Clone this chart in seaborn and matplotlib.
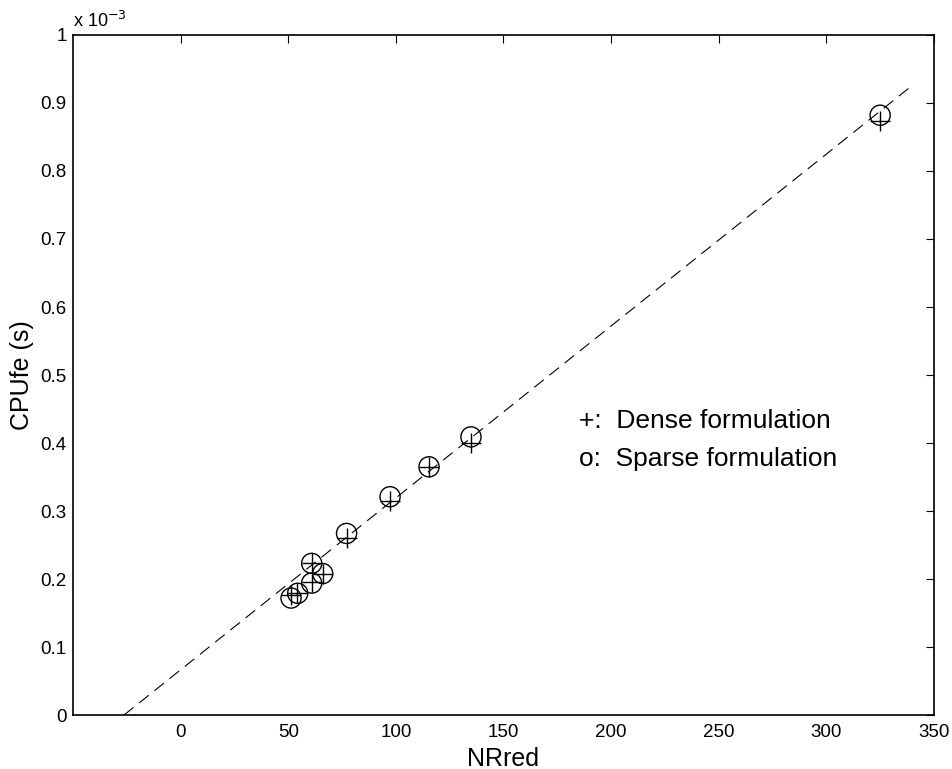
import matplotlib
matplotlib.use("Agg")
import matplotlib.pyplot as plt
import seaborn as sns
import pandas as pd
import numpy as np

# Data (CPU time in units of 1e-3 s)
nr_dense = [325.0, 134.9, 115.4, 97.3, 77.1, 60.9, 66.0, 60.9, 54.0, 51.5]
cpu_dense = [0.873, 0.400, 0.365, 0.314, 0.261, 0.223, 0.208, 0.195, 0.179, 0.177]
nr_sparse = [325.0, 134.9, 115.4, 97.3, 77.1, 60.9, 66.0, 60.9, 54.4, 51.3]
cpu_sparse = [0.882, 0.409, 0.365, 0.321, 0.267, 0.223, 0.208, 0.194, 0.179, 0.172]
fit_x = [-26.3, 340.0]
fit_y = [0.0, 0.926]

sns.set_theme(style="white")
plt.rcParams['font.family'] = ['Liberation Sans', 'DejaVu Sans']
plt.rcParams['text.color'] = 'black'
plt.rcParams['axes.labelcolor'] = 'black'
plt.rcParams['xtick.color'] = 'black'
plt.rcParams['ytick.color'] = 'black'

fig = plt.figure(figsize=(9.53, 7.69), dpi=100)
ax = fig.add_axes([0.0766, 0.0702, 0.9034, 0.8843])

df_fit = pd.DataFrame({"x": fit_x, "y": fit_y})
sns.lineplot(data=df_fit, x="x", y="y", ax=ax, color="black", lw=0.8,
             linestyle=(0, (11, 6.5)))

df_d = pd.DataFrame({"x": nr_dense, "y": cpu_dense})
df_s = pd.DataFrame({"x": nr_sparse, "y": cpu_sparse})
sns.scatterplot(data=df_d, x="x", y="y", ax=ax, marker="+", s=200,
                color="black", linewidth=1.0)
sns.scatterplot(data=df_s, x="x", y="y", ax=ax, marker="o", s=210,
                facecolor="none", edgecolor="black", linewidth=1.0)

ax.set_xlim(-50, 350)
ax.set_ylim(0, 1.0)
ax.set_xticks(np.arange(0, 351, 50))
ax.set_yticks(np.round(np.arange(0, 1.01, 0.1), 1))
ax.set_yticklabels(["0"] + [f"{v:.1f}" for v in np.arange(0.1, 0.95, 0.1)] + ["1"])
ax.tick_params(direction="in", length=6, width=0.8, top=True, right=True,
               labelsize=13.5, colors="black", labelcolor="black")
ax.tick_params(axis="x", pad=6.5)
ax.tick_params(axis="y", pad=4.5)
for sp in ax.spines.values():
    sp.set_visible(True)
    sp.set_color("black")
    sp.set_linewidth(1.2)

ax.set_xlabel("NRred", fontsize=18, labelpad=4, color="black")
ax.set_ylabel("CPUfe (s)", fontsize=18, labelpad=5, color="black")

ax.text(0.0, 1.006, r"x 10$^{-3}$", transform=ax.transAxes, fontsize=13,
        ha="left", va="bottom", color="black")

ax.text(185, 0.4216, "+:  Dense formulation", fontsize=19, ha="left",
        va="baseline", color="black")
ax.text(185, 0.366, "o:  Sparse formulation", fontsize=19, ha="left",
        va="baseline", color="black")

fig.savefig("out.png", dpi=100, facecolor="white")
